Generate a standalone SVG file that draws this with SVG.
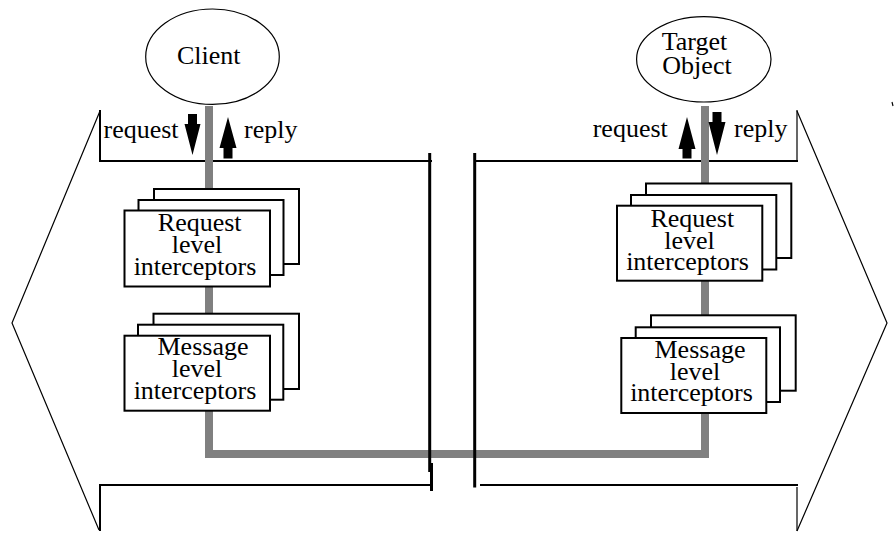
<svg xmlns="http://www.w3.org/2000/svg" width="894" height="533" viewBox="0 0 894 533" font-family="'Liberation Serif', 'DejaVu Serif', serif">
<style>
text{font-family:'Liberation Serif','DejaVu Serif',serif;font-size:26px;fill:#000}
.mid{text-anchor:middle}
.box{fill:#fff;stroke:#000;stroke-width:2}
.ell{fill:#fff;stroke:#000;stroke-width:1.2}
.thin{fill:none;stroke:#000;stroke-width:1.2}
.med{fill:none;stroke:#000;stroke-width:2}
.thick{fill:none;stroke:#000;stroke-width:3}
.bus{fill:none;stroke:#808080;stroke-width:8;stroke-linejoin:miter}
.arr{fill:#000;stroke:none}
</style>
<rect width="894" height="533" fill="#fff"/>

<g id="left-orb-frame">
  <polyline class="thin" points="100,111 12,323 99,530"/>
  <line class="med" x1="100" y1="110" x2="100" y2="162"/>
  <line class="med" x1="99" y1="161" x2="432" y2="161"/>
  <line class="med" x1="100" y1="484" x2="100" y2="531"/>
  <line class="med" x1="99" y1="485" x2="431" y2="485"/>
</g>
<g id="right-orb-frame">
  <polyline class="thin" points="797,111 887,323 797,531"/>
  <line class="thin" x1="797" y1="110" x2="797" y2="162"/>
  <line class="med" x1="474" y1="161" x2="798" y2="161"/>
  <line class="thin" x1="797" y1="487" x2="797" y2="531"/>
  <line class="med" x1="480" y1="485" x2="798" y2="485"/>
  <line class="thin" x1="892" y1="102" x2="893" y2="106"/>
</g>

<g id="connectors">
  <path class="bus" d="M209,106 V454 H705 V106"/>
  <polygon class="arr" points="188,114 197,114 197,124 200.5,124 192.5,155 184.5,124 188,124"/>
  <polygon class="arr" points="228,117 236.5,148 232.5,148 232.5,158.5 223.5,158.5 223.5,148 219.5,148"/>
  <polygon class="arr" points="687,117 695.5,149 691.5,149 691.5,158.5 682.5,158.5 682.5,149 678.5,149"/>
  <polygon class="arr" points="712.5,112 721.5,112 721.5,122 725.5,122 717,155 708.5,122 712.5,122"/>
</g>

<g id="separators">
  <line class="thick" x1="429.7" y1="153" x2="429.7" y2="472"/>
  <line class="thick" x1="431.5" y1="463" x2="431.5" y2="491"/>
  <line class="thick" x1="474.7" y1="153" x2="474.7" y2="487.5"/>
</g>

<g id="client">
  <ellipse class="ell" cx="212.5" cy="56.7" rx="66.8" ry="47.7"/>
  <text class="mid" x="208.7" y="63.5" font-family="'Liberation Serif', 'DejaVu Serif', serif">Client</text>
</g>

<g id="target-object">
  <ellipse class="ell" cx="703.8" cy="59.3" rx="67.2" ry="42.7"/>
  <text class="mid" x="694.5" y="50" font-family="'Liberation Serif', 'DejaVu Serif', serif">Target</text>
  <text class="mid" x="697" y="73.5" font-family="'Liberation Serif', 'DejaVu Serif', serif">Object</text>
</g>

<g id="labels" font-family="'Liberation Serif', 'DejaVu Serif', serif">
  <text x="103.5" y="138">request</text>
  <text x="244" y="138">reply</text>
  <text x="592.7" y="137">request</text>
  <text x="734" y="137">reply</text>
</g>

<g id="client-request-interceptors" font-family="'Liberation Serif', 'DejaVu Serif', serif">
  <rect class="box" x="154" y="189" width="145" height="75"/>
  <rect class="box" x="138.5" y="200" width="145" height="75"/>
  <rect class="box" x="124.5" y="210.5" width="145.5" height="76"/>
  <text class="mid" x="199.7" y="231">Request</text>
  <text class="mid" x="197" y="253">level</text>
  <text class="mid" x="195" y="275">interceptors</text>
</g>

<g id="client-message-interceptors" font-family="'Liberation Serif', 'DejaVu Serif', serif">
  <rect class="box" x="153.5" y="313.7" width="145.5" height="75.3"/>
  <rect class="box" x="138" y="324.7" width="145.3" height="75"/>
  <rect class="box" x="124.5" y="335.7" width="145.5" height="75"/>
  <text class="mid" x="203" y="355">Message</text>
  <text class="mid" x="197" y="377">level</text>
  <text class="mid" x="195" y="398.5">interceptors</text>
</g>

<g id="target-request-interceptors" font-family="'Liberation Serif', 'DejaVu Serif', serif">
  <rect class="box" x="646" y="183.5" width="145.3" height="74.5"/>
  <rect class="box" x="631" y="195" width="145.3" height="74.5"/>
  <rect class="box" x="617" y="205.7" width="145.3" height="75"/>
  <text class="mid" x="692.3" y="226.5">Request</text>
  <text class="mid" x="689.5" y="248.5">level</text>
  <text class="mid" x="687.5" y="270">interceptors</text>
</g>

<g id="target-message-interceptors" font-family="'Liberation Serif', 'DejaVu Serif', serif">
  <rect class="box" x="651" y="315.3" width="144.7" height="75.4"/>
  <rect class="box" x="635.7" y="327.3" width="144.3" height="74.7"/>
  <rect class="box" x="621.3" y="338" width="145" height="75"/>
  <text class="mid" x="700" y="357.5">Message</text>
  <text class="mid" x="695" y="379.5">level</text>
  <text class="mid" x="691.5" y="401">interceptors</text>
</g>
</svg>
